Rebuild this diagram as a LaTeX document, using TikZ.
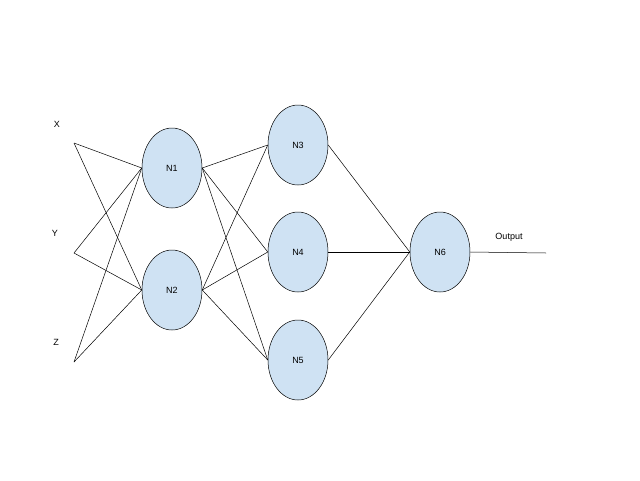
\documentclass[tikz,border=0pt]{standalone}
\usepackage{fontspec}
\setmainfont{Liberation Sans}
\usepackage{tikz}
\usetikzlibrary{positioning, shapes.geometric}
\definecolor{neuronFill}{HTML}{CFE2F3}
\tikzset{neuron/.style={ellipse, draw, fill=neuronFill, minimum width=60pt, minimum height=80pt, inner sep=0pt, font=\fontsize{9}{10}\selectfont}}
\tikzset{lbl/.style={font=\fontsize{9}{10}\selectfont}}

\begin{document}
\begin{tikzpicture}[x=1pt, y=-1pt, line width=0.5pt]
\useasboundingbox (0,0) rectangle (640,480);
\node[lbl] (lx) at (57,124) {X};
\node[lbl] (ly) at (55,233) {Y};
\node[lbl] (lz) at (56,342) {Z};
\coordinate (x) at (74,143);
\coordinate (y) at (74,253);
\coordinate (z) at (74,362);
\node[neuron] (n1) at (172,168) {N1};
\node[neuron] (n2) at (172,290) {N2};
\node[neuron] (n3) at (298,145) {N3};
\node[neuron] (n4) at (298,252) {N4};
\node[neuron] (n5) at (298,360) {N5};
\node[neuron] (n6) at (440,252) {N6};
\coordinate (out) at (546,253);
\node[lbl] (lout) at (509,237) {Output};
\foreach \i in {x,y,z} {
  \draw (\i) -- (n1.west);
  \draw (\i) -- (n2.west);
}
\foreach \i in {n1,n2} {
  \foreach \j in {n3,n4,n5} {
    \draw (\i.east) -- (\j.west);
  }
}
\foreach \j in {n3,n4,n5} {
  \draw (\j.east) -- (n6.west);
}
\draw (n6.east) -- (out);
\end{tikzpicture}
\end{document}
